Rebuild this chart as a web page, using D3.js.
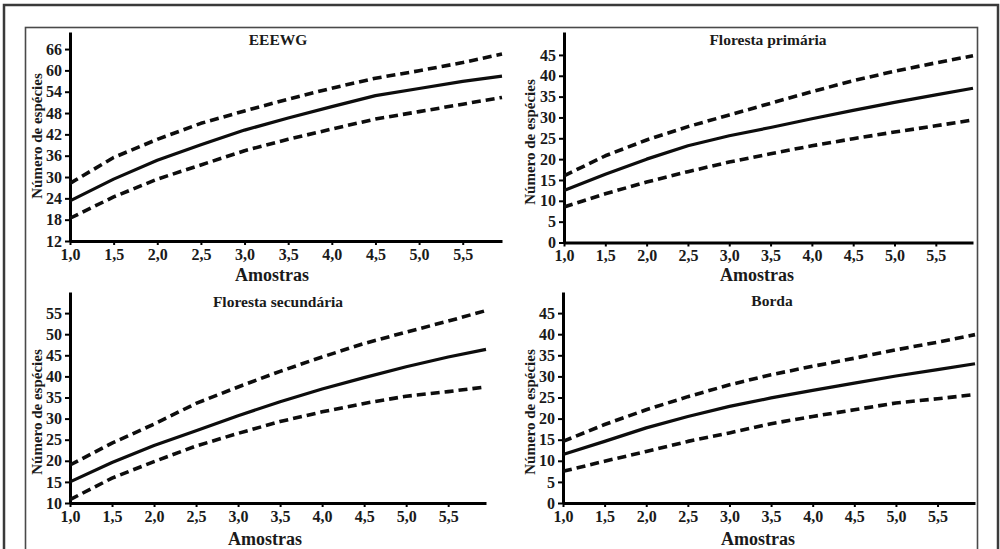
<!DOCTYPE html>
<html>
<head>
<meta charset="utf-8">
<script src="https://cdn.jsdelivr.net/npm/d3@7"></script>
<style>
  html, body { margin: 0; padding: 0; background: #fff; }
  svg { display: block; }
  text { font-family: "Liberation Serif", "Times New Roman", serif; font-weight: bold; fill: #1a1a1a; }
</style>
</head>
<body>
<svg id="chart" width="1000" height="549"></svg>
<script>
// ---------------- data ----------------
const samples = [1.0, 1.5, 2.0, 2.5, 3.0, 3.5, 4.0, 4.5, 5.0, 5.5, 5.95];
const xTickValues = [1.0, 1.5, 2.0, 2.5, 3.0, 3.5, 4.0, 4.5, 5.0, 5.5];
const xTickLabels = ["1,0", "1,5", "2,0", "2,5", "3,0", "3,5", "4,0", "4,5", "5,0", "5,5"];

const panelTitles = ["EEEWG", "Floresta primária", "Floresta secundária", "Borda"];
const xAxisTitle = "Amostras";
const yAxisTitle = "Número de espécies";

const eeewgMean  = [23.3, 29.4, 34.7, 39.1, 43.2, 46.6, 49.8, 52.9, 54.9, 56.9, 58.4];
const eeewgUpper = [28.2, 35.5, 40.6, 45.1, 48.6, 51.9, 55.0, 57.8, 59.9, 62.2, 64.6];
const eeewgLower = [18.4, 24.4, 29.4, 33.4, 37.4, 40.6, 43.5, 46.3, 48.4, 50.5, 52.4];
const eeewgYTicks = [12, 18, 24, 30, 36, 42, 48, 54, 60, 66];

const primMean  = [12.5, 16.4, 20.0, 23.2, 25.6, 27.6, 29.7, 31.7, 33.6, 35.4, 37.0];
const primUpper = [16.0, 20.8, 24.6, 27.8, 30.6, 33.4, 36.2, 38.8, 41.1, 43.1, 44.8];
const primLower = [8.5, 11.7, 14.5, 17.0, 19.3, 21.3, 23.2, 24.9, 26.5, 28.0, 29.4];
const primYTicks = [0, 5, 10, 15, 20, 25, 30, 35, 40, 45];

const secMean  = [15.0, 19.6, 23.6, 27.1, 30.7, 34.0, 37.0, 39.7, 42.3, 44.6, 46.4];
const secUpper = [19.0, 24.2, 28.7, 33.6, 37.5, 41.2, 44.6, 47.8, 50.5, 53.1, 55.6];
const secLower = [10.8, 15.9, 19.8, 23.5, 26.5, 29.3, 31.6, 33.6, 35.3, 36.4, 37.5];
const secYTicks = [10, 15, 20, 25, 30, 35, 40, 45, 50, 55];

const bordaMean  = [11.5, 14.6, 17.8, 20.5, 22.9, 24.9, 26.7, 28.4, 30.1, 31.6, 33.0];
const bordaUpper = [14.6, 18.6, 22.1, 25.2, 28.0, 30.4, 32.4, 34.3, 36.3, 38.1, 39.9];
const bordaLower = [7.5, 9.9, 12.2, 14.6, 16.6, 18.8, 20.5, 22.1, 23.7, 24.7, 25.7];
const bordaYTicks = [0, 5, 10, 15, 20, 25, 30, 35, 40, 45];

// ---------------- layout ----------------
const panels = [
  { title: panelTitles[0], mean: eeewgMean, upper: eeewgUpper, lower: eeewgLower, yTicks: eeewgYTicks,
    yDomain: [12, 70.8], xRange: [70, 502], yRange: [241, 32], titleX: 278, titleY: 45, xtX: 272, xtY: 281, ytX: 37, ytY: 136 },
  { title: panelTitles[1], mean: primMean, upper: primUpper, lower: primLower, yTicks: primYTicks,
    yDomain: [0, 50.5], xRange: [564, 973], yRange: [242.5, 32], titleX: 768, titleY: 45, xtX: 757, xtY: 281, ytX: 530, ytY: 142 },
  { title: panelTitles[2], mean: secMean, upper: secUpper, lower: secLower, yTicks: secYTicks,
    yDomain: [10, 60], xRange: [70, 486], yRange: [503, 292], titleX: 278, titleY: 307, xtX: 265, xtY: 545, ytX: 37, ytY: 412 },
  { title: panelTitles[3], mean: bordaMean, upper: bordaUpper, lower: bordaLower, yTicks: bordaYTicks,
    yDomain: [0, 50], xRange: [563, 975], yRange: [503, 292], titleX: 772, titleY: 306, xtX: 758, xtY: 545, ytX: 530, ytY: 412 }
];

const svg = d3.select("#chart");

// frames
svg.append("rect").attr("x", 4).attr("y", 5).attr("width", 994).attr("height", 560)
  .attr("fill", "none").attr("stroke", "#3a3a3a").attr("stroke-width", 2.5);
svg.append("rect").attr("x", 25.5).attr("y", 27.5).attr("width", 952).attr("height", 540)
  .attr("fill", "none").attr("stroke", "#4a4a4a").attr("stroke-width", 1.6);

panels.forEach(p => {
  const g = svg.append("g");
  const x = d3.scaleLinear().domain([1, 5.95]).range(p.xRange);
  const y = d3.scaleLinear().domain(p.yDomain).range(p.yRange);

  // x axis
  const xAxis = d3.axisBottom(x).tickValues(xTickValues)
    .tickFormat((d, i) => xTickLabels[i]).tickSize(4).tickPadding(3.5).tickSizeOuter(0);
  const gx = g.append("g").attr("transform", `translate(0,${p.yRange[0]})`).call(xAxis);
  gx.select(".domain").attr("stroke", "#000").attr("stroke-width", 3);
  gx.selectAll(".tick line").attr("stroke", "#000").attr("stroke-width", 2);
  gx.selectAll(".tick text").attr("font-size", 16).attr("fill", "#1a1a1a")
    .style("font-family", "'Liberation Serif', serif").style("font-weight", "bold");

  // y axis
  const yAxis = d3.axisLeft(y).tickValues(p.yTicks).tickSize(5).tickPadding(3).tickSizeOuter(0);
  const gy = g.append("g").attr("transform", `translate(${p.xRange[0]},0)`).call(yAxis);
  gy.select(".domain").attr("stroke", "#000").attr("stroke-width", 3);
  gy.selectAll(".tick line").attr("stroke", "#000").attr("stroke-width", 2);
  gy.selectAll(".tick text").attr("font-size", 16).attr("fill", "#1a1a1a")
    .style("font-family", "'Liberation Serif', serif").style("font-weight", "bold");

  // lines
  const line = (vals) => d3.line().x((d, i) => x(samples[i])).y(d => y(d))(vals);
  [[p.upper, "9,5"], [p.lower, "9,5"], [p.mean, null]].forEach(([vals, dash]) => {
    const path = g.append("path").attr("d", line(vals)).attr("fill", "none")
      .attr("stroke", "#0d0d0d").attr("stroke-width", dash ? 3.6 : 3.2)
      .attr("stroke-linejoin", "round");
    if (dash) path.attr("stroke-dasharray", dash);
  });

  // titles
  g.append("text").attr("x", p.titleX).attr("y", p.titleY).attr("text-anchor", "middle")
    .attr("font-size", 15.5).text(p.title);
  g.append("text").attr("x", p.xtX).attr("y", p.xtY).attr("text-anchor", "middle")
    .attr("font-size", 18).text(xAxisTitle);
  g.append("text").attr("transform", `translate(${p.ytX},${p.ytY}) rotate(-90)`)
    .attr("text-anchor", "middle").attr("dy", "0.35em").attr("font-size", 15).text(yAxisTitle);
});
</script>
</body>
</html>
